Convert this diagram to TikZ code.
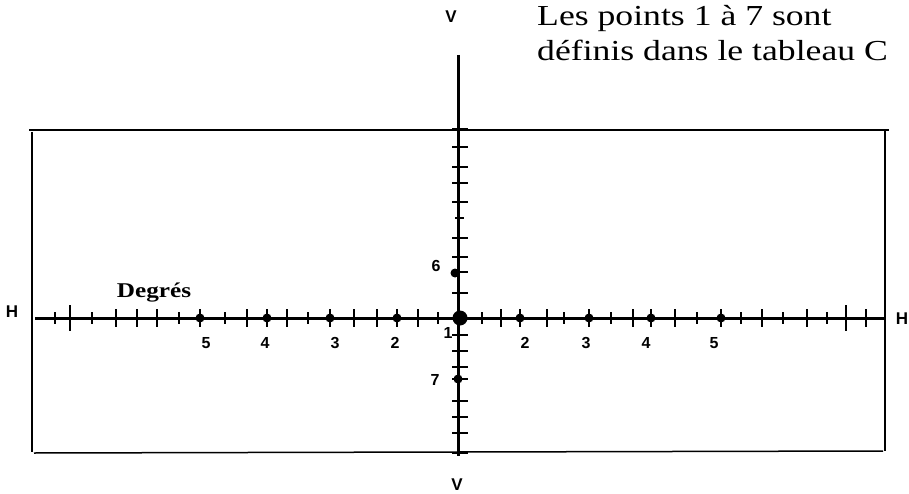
\documentclass[tikz,border=0pt]{standalone}
\usepackage{fontspec}
\setmainfont{Liberation Serif}
\newfontfamily\lblfont{Liberation Sans}
\newfontfamily\txtfont[FakeStretch=1.23]{Liberation Serif}
\newfontfamily\degfont[FakeStretch=1.2]{Liberation Serif}
\begin{document}
\begin{tikzpicture}[x=1pt,y=-1pt,
  frameline/.style={line width=1.5pt},
  axisline/.style={line width=3pt},
  tickline/.style={line width=1.5pt},
  ptdot/.style={circle,fill=black,inner sep=0pt,minimum size=9pt},
  bigdot/.style={circle,fill=black,inner sep=0pt,minimum size=15pt},
  lbl/.style={inner sep=0pt,font=\lblfont\bfseries\fontsize{17}{19}\selectfont},
  num/.style={inner sep=0pt,font=\lblfont\bfseries\fontsize{16}{18}\selectfont}]
\useasboundingbox (0,0) rectangle (909,494);
% frame
\coordinate (ftl) at (29,130); \coordinate (ftr) at (889,130);
\coordinate (flt) at (32,132); \coordinate (flb) at (32,452);
\coordinate (fbl) at (34,453); \coordinate (fbr) at (883,451);
\coordinate (frt) at (885,130); \coordinate (frb) at (885,451);
\draw[frameline] (ftl) -- (ftr);
\draw[frameline] (flt) -- (flb);
\draw[frameline] (fbl) -- (fbr);
\draw[frameline] (frt) -- (frb);
% horizontal ticks: short
\foreach \x in {55,92,179,225,308,438,482,564,611,697,741,783,827}
  \draw[tickline] (\x,312) -- (\x,324);
% long
\foreach \x in {116,137,157,200,247,267,287,330,354,377,397,418,501,520,547,589,633,651,675,721,762,807,866}
  \draw[tickline] (\x,309) -- (\x,327);
\foreach \x in {70,846}
  \draw[tickline] (\x,305) -- (\x,331);
% vertical ticks
\foreach \y in {129,147,167,183,202,238,257,272,293,335,351,367,379,401,417,433,453}
  \draw[tickline] (452,\y) -- (468,\y);
\draw[tickline] (455,218) -- (464,218);
% axes
\coordinate (hl) at (35,318); \coordinate (hr) at (885,318);
\coordinate (vt) at (458,55); \coordinate (vb) at (458,456);
\draw[axisline] (hl) -- (hr);
\draw[axisline] (vt) -- (vb);
% dots
\node[bigdot] (p1) at (460,318) {};
\foreach \x/\n in {200/a,267/b,330/c,397/d,520/e,589/f,651/g,721/h}
  \node[ptdot] (d\n) at (\x,318) {};
\node[ptdot] (p6) at (455,273) {};
\node[ptdot] (p7) at (458,379) {};
% labels
\node[lbl] (vtop) at (451,17) {V};
\node[lbl] (vbot) at (457,485) {V};
\node[lbl] (hleft) at (12,312) {H};
\node[lbl] (hright) at (902,319) {H};
\foreach \x/\t/\n in {206/5/a,265/4/b,335/3/c,395/2/d,525/2/e,586/3/f,646/4/g,714/5/h}
  \node[num] (n\n) at (\x,343) {\t};
\node[num] (n1) at (448,333) {1};
\node[num] (n6) at (436,266) {6};
\node[num] (n7) at (435,380) {7};
\node[anchor=base,inner sep=0pt,font=\degfont\bfseries\fontsize{21}{24}\selectfont] (deg) at (154,297) {Degrés};
\node[anchor=base west,inner sep=0pt,font=\txtfont\fontsize{29}{33}\selectfont] (t1) at (537,26) {Les points 1 à 7 sont};
\node[anchor=base west,inner sep=0pt,font=\txtfont\fontsize{29}{33}\selectfont] (t2) at (537,61) {définis dans le tableau C};
\end{tikzpicture}
\end{document}
